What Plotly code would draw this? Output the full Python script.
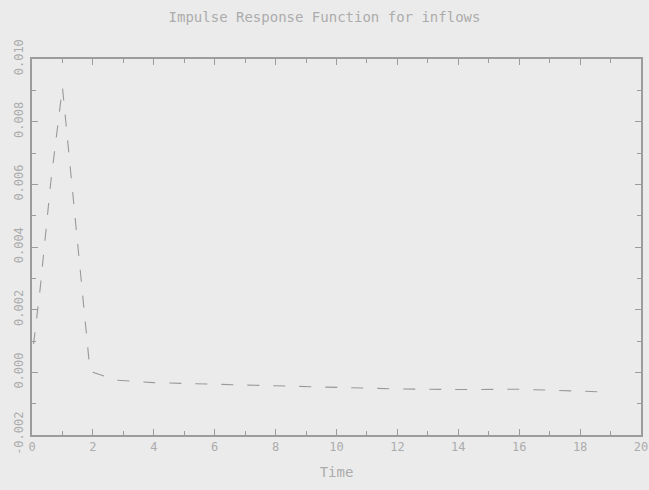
import plotly.graph_objects as go

# Impulse response of inflows over time
time = [0.05, 0.26, 0.62, 1.0, 1.3, 1.6, 1.9, 2.0, 2.8, 4, 6, 8, 10, 12, 14, 16, 18, 18.6]
response = [0.0009, 0.0026, 0.0061, 0.0091, 0.0061, 0.0030, 0.0001, 0.0000,
            -0.00025, -0.00033, -0.00038, -0.00045, -0.0005, -0.00053, -0.00055,
            -0.00054, -0.0006, -0.00062]

x_ticks = list(range(0, 21, 2))
y_ticks = [-0.002, 0.000, 0.002, 0.004, 0.006, 0.008, 0.010]
y_labels = ["-0.002", "0.000", "0.002", "0.004", "0.006", "0.008", "0.010"]

BG = "#ebebeb"
INK = "#acacac"
AXIS = "#9c9c9c"
FONT = "DejaVu Sans Mono"

fig = go.Figure()
fig.add_trace(go.Scatter(
    x=time, y=response, mode="lines",
    line=dict(color="#999999", width=1.1, dash="12px,14px"),
    showlegend=False,
))

fig.update_layout(
    width=649, height=490,
    paper_bgcolor=BG, plot_bgcolor=BG,
    margin=dict(l=32, r=8, t=59, b=55, autoexpand=False),
    title=dict(text="Impulse Response Function for inflows",
               x=0.5, xanchor="center", y=1 - 17 / 490, yanchor="middle",
               font=dict(family=FONT, size=14, color=INK)),
    font=dict(family=FONT, color=INK),
)

fig.update_xaxes(
    range=[0, 20], tickvals=x_ticks, ticktext=[str(v) for v in x_ticks],
    automargin=False,
    ticks="inside", ticklen=6, tickcolor=AXIS, tickwidth=1,
    minor=dict(dtick=1, ticks="inside", ticklen=4, tickcolor=AXIS),
    showline=True, linecolor=AXIS, linewidth=1.5, mirror="ticks",
    showgrid=False, zeroline=False,
    tickfont=dict(family=FONT, size=12, color=INK),
    title=dict(text="Time", font=dict(family=FONT, size=14, color=INK), standoff=14),
)

fig.update_yaxes(
    range=[-0.002, 0.010], tickvals=y_ticks, ticktext=y_labels,
    automargin=False,
    tickangle=-90,
    ticks="inside", ticklen=6, tickcolor=AXIS, tickwidth=1,
    minor=dict(dtick=0.001, tick0=0, ticks="inside", ticklen=4, tickcolor=AXIS),
    showline=True, linecolor=AXIS, linewidth=1.5, mirror="ticks",
    showgrid=False, zeroline=False,
    tickfont=dict(family=FONT, size=12, color=INK),
    ticklabelstandoff=2,
)

fig.write_html("out.html")
